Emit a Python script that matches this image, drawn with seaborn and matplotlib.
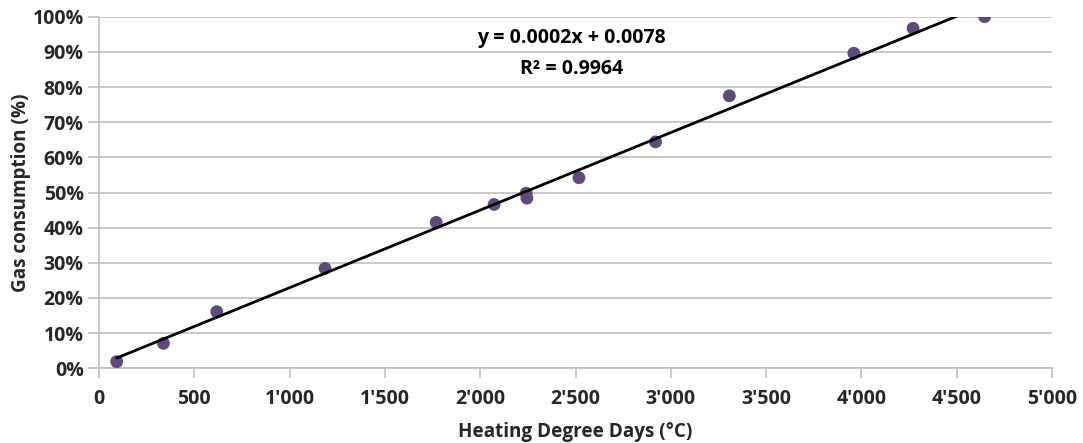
import numpy as np
import pandas as pd
import matplotlib
matplotlib.use("Agg")
import matplotlib.pyplot as plt
from matplotlib.ticker import FuncFormatter
import seaborn as sns

# Data
hdd = [93, 338, 618, 1186, 1769, 2073, 2241, 2245, 2518, 2920, 3307, 3960, 4271, 4646]
gas = [0.019, 0.071, 0.161, 0.284, 0.415, 0.466, 0.498, 0.484, 0.542, 0.644, 0.775, 0.896, 0.967, 1.000]
x_ticks = [0, 500, 1000, 1500, 2000, 2500, 3000, 3500, 4000, 4500, 5000]
y_ticks = [0.0, 0.1, 0.2, 0.3, 0.4, 0.5, 0.6, 0.7, 0.8, 0.9, 1.0]
equation_line = "y = 0.0002x + 0.0078"
r2_line = "R² = 0.9964"
x_label = "Heating Degree Days (°C)"
y_label = "Gas consumption (%)"

sns.set_theme(style="white")
plt.rcParams['font.family'] = ['Open Sans', 'DejaVu Sans']
plt.rcParams['font.weight'] = 'bold'

df = pd.DataFrame({"hdd": hdd, "gas": gas})
slope, intercept = np.polyfit(df["hdd"], df["gas"], 1)
fit = pd.DataFrame({"hdd": [min(hdd), max(hdd)]})
fit["gas"] = slope * fit["hdd"] + intercept

fig = plt.figure(figsize=(10.83, 4.43), dpi=100)
ax = fig.add_axes([0.0914, 0.1686, 0.8800, 0.7937])

grid_c = "#BFBFBF"
ax.set_xlim(0, 5000)
ax.set_ylim(0, 1.0)
ax.set_yticks(y_ticks)
ax.set_xticks(x_ticks)
ax.yaxis.grid(True, color=grid_c, linewidth=1.2, zorder=0)
ax.xaxis.grid(False)
ax.set_axisbelow(True)

sns.scatterplot(data=df, x="hdd", y="gas", ax=ax, s=85, color="#604A7B",
                edgecolor="none", zorder=3)
sns.lineplot(data=fit, x="hdd", y="gas", ax=ax, color="black", linewidth=2.0,
             zorder=4)

for side in ["top", "right"]:
    ax.spines[side].set_visible(False)
for side in ["left", "bottom"]:
    ax.spines[side].set_color(grid_c)
    ax.spines[side].set_linewidth(1.2)

fs = 14
ax.tick_params(axis="x", direction="out", length=7, width=1.2, color=grid_c,
               labelsize=fs, pad=8, bottom=True)
ax.tick_params(axis="y", direction="out", length=8, width=1.2, color=grid_c,
               labelsize=fs, pad=3, left=True)

ax.xaxis.set_major_formatter(FuncFormatter(lambda v, p: f"{int(v):,}".replace(",", "'")))
ax.yaxis.set_major_formatter(FuncFormatter(lambda v, p: f"{int(round(v * 100))}%"))
for lab in ax.get_xticklabels() + ax.get_yticklabels():
    lab.set_fontweight("bold")

ax.set_xlabel(x_label, fontsize=13.6, fontweight="bold", labelpad=9)
ax.set_ylabel(y_label, fontsize=13.6, fontweight="bold", labelpad=1)

ax.text(2480, 0.939, equation_line, ha="center", va="center", fontsize=14,
        fontweight="bold", color="black")
ax.text(2480, 0.851, r2_line, ha="center", va="center", fontsize=14,
        fontweight="bold", color="black")

fig.savefig("out.png", dpi=100, facecolor="white")
